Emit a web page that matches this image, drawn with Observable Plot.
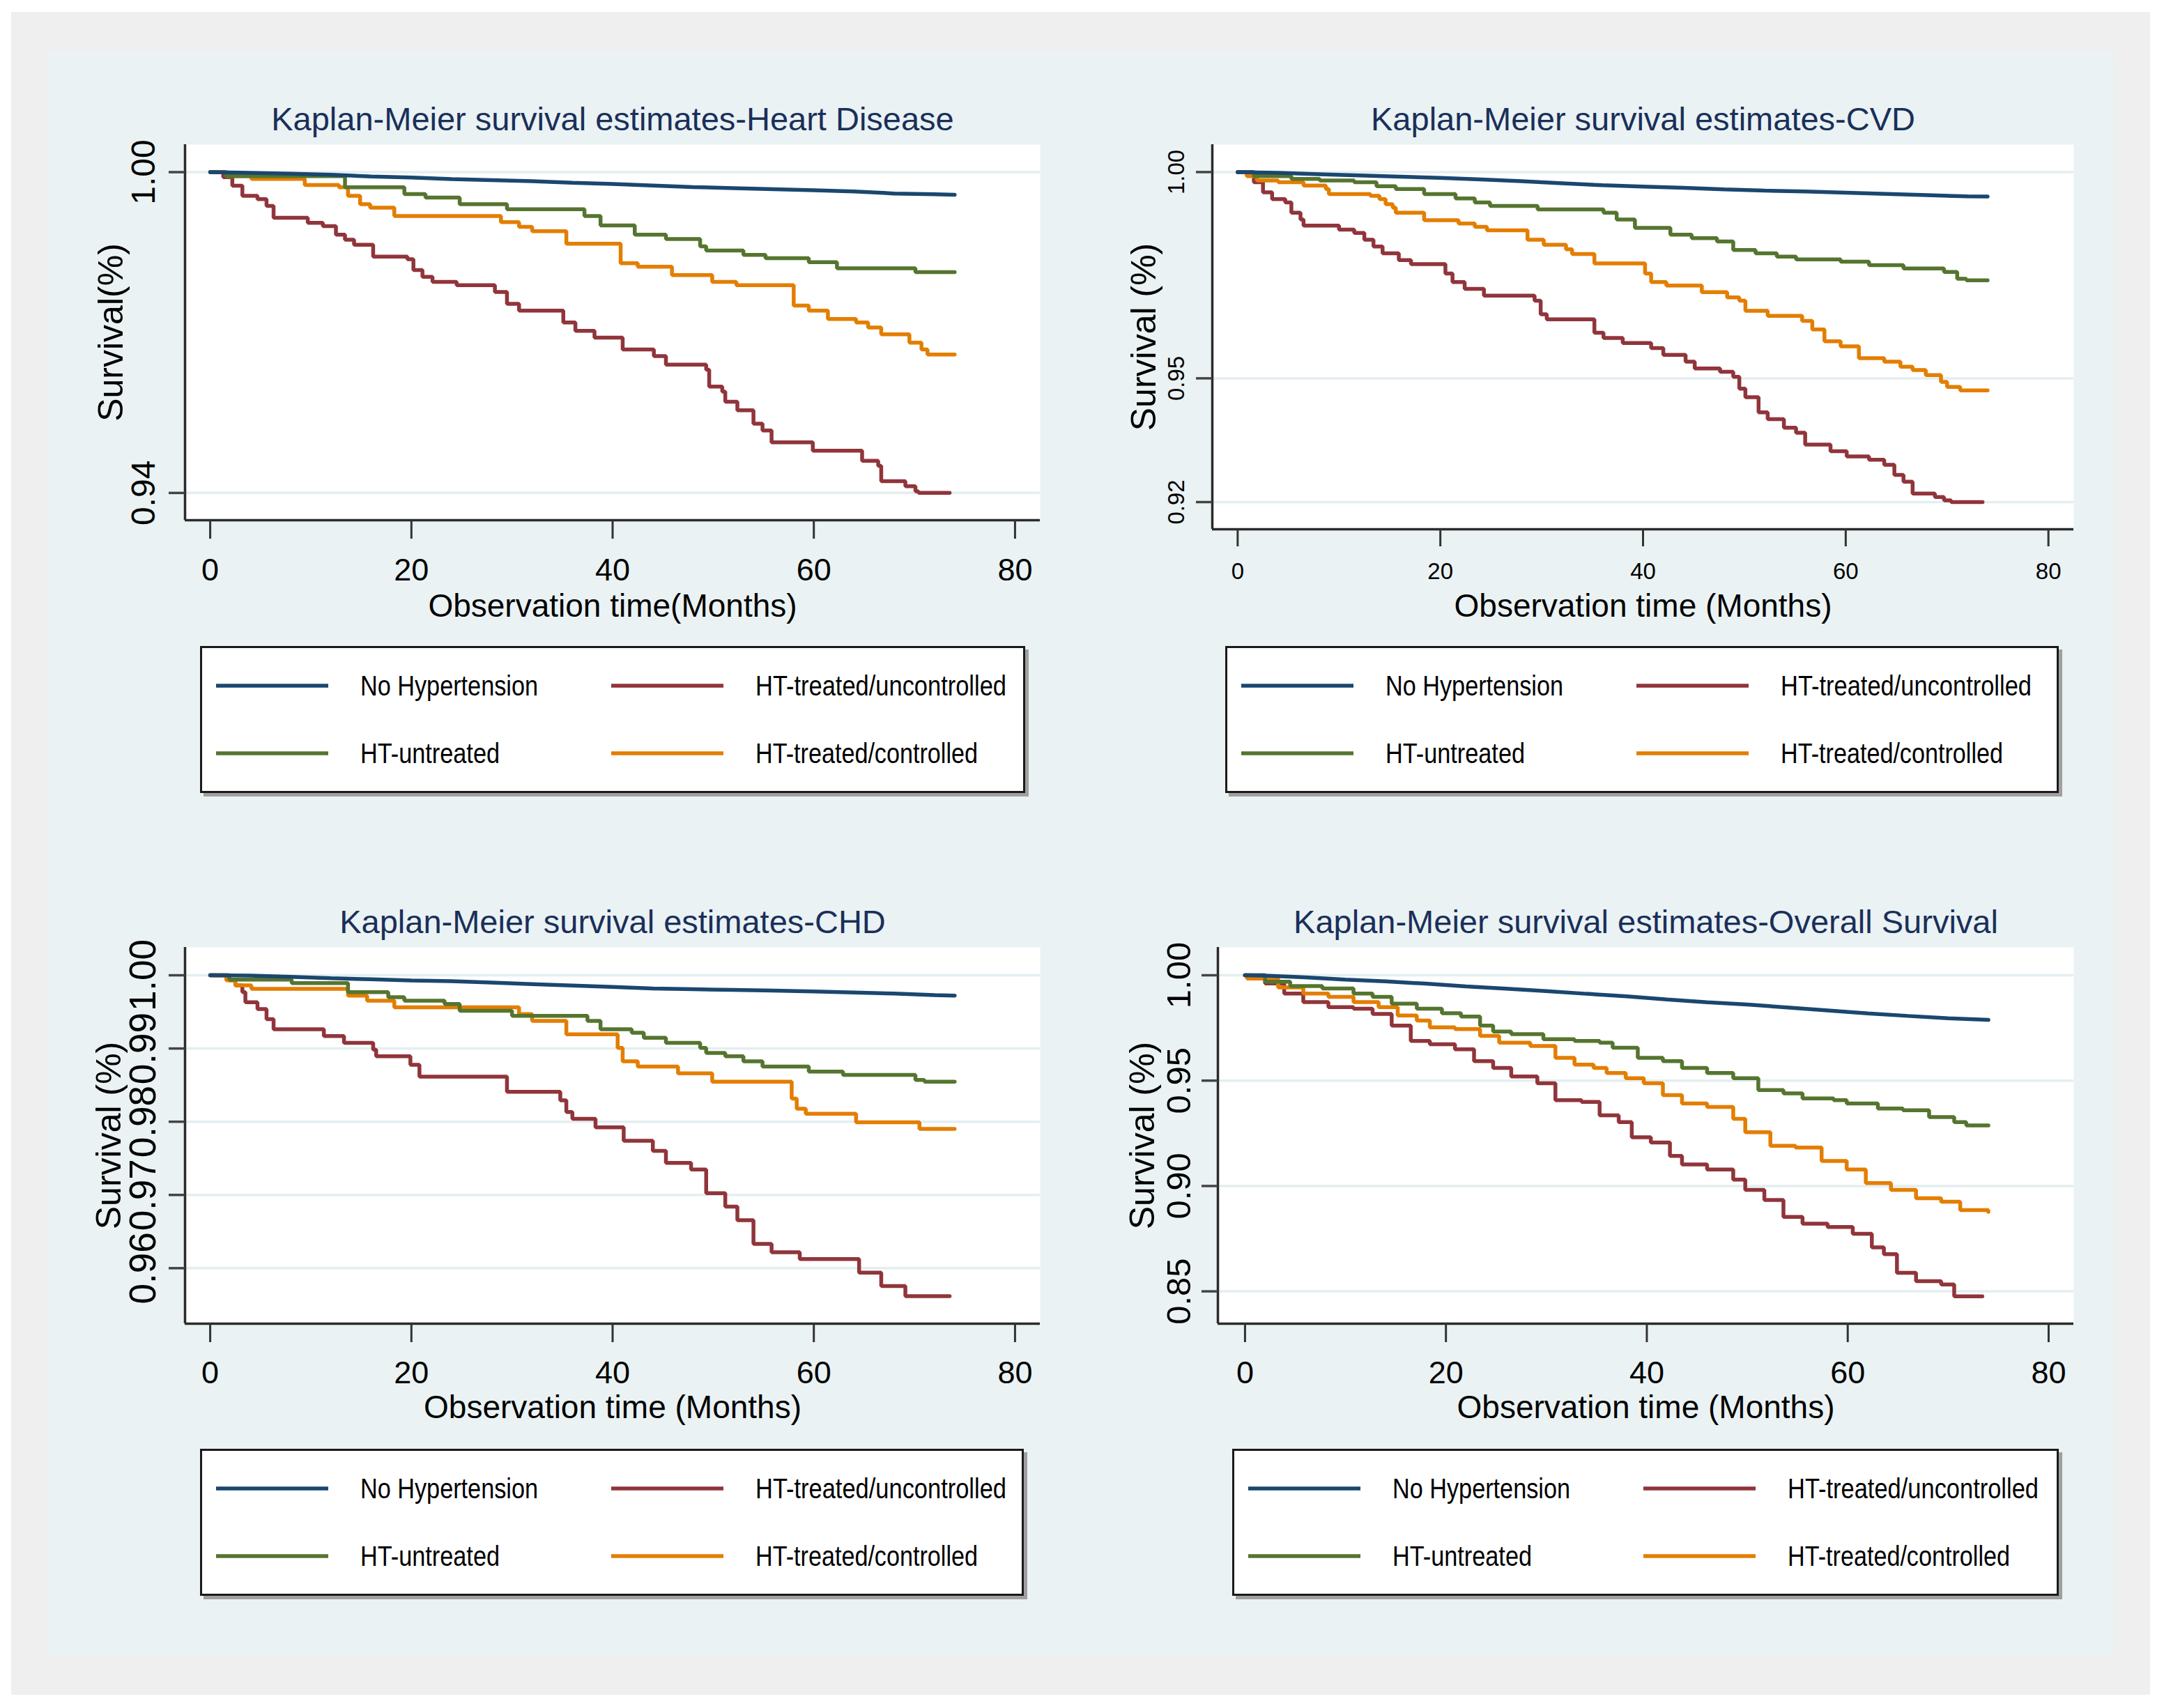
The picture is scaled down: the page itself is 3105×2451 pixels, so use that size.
<!DOCTYPE html>
<html><head><meta charset="utf-8">
<script src="https://cdn.jsdelivr.net/npm/d3@7"></script>
<script src="https://cdn.jsdelivr.net/npm/@observablehq/plot@0.6"></script>
<style>
html,body{margin:0;padding:0;background:#fff;}
#root{position:relative;width:3105px;height:2451px;overflow:hidden;background:#fff;font-family:"Liberation Sans",Arial,sans-serif;}
</style></head><body><div id="root"></div>
<script>
// ---------------- data ----------------
const seriesNames = ["No Hypertension", "HT-untreated", "HT-treated/uncontrolled", "HT-treated/controlled"];
const seriesColors = ["#1a476f", "#55752f", "#90353b", "#e37e00"];
const xTicks = [0, 20, 40, 60, 80];

// Heart Disease  [month, survival]
const hdNoHT = [[0,1],[3,0.9999],[8,0.9997],[12,0.9995],[16,0.9992],[20,0.9990],[24,0.9987],[28,0.9985],[32,0.9983],[36,0.9980],[40,0.9978],[44,0.9975],[48,0.9972],[52,0.9970],[56,0.9968],[60,0.9966],[64,0.9964],[68,0.9960],[72,0.99585],[74,0.99577]];
const hdUntreated = [[0,1],[1.6,0.99924],[13.4,0.99716],[19.3,0.99589],[21.4,0.99526],[24.8,0.994],[29.5,0.99305],[37.2,0.99179],[38.8,0.99002],[42.2,0.98832],[45.3,0.98749],[48.7,0.98611],[49.3,0.98535],[53.0,0.98453],[55.2,0.98389],[59.5,0.98314],[62.3,0.982],[70.1,0.9813],[74,0.9813]];
const hdUncontrolled = [[0,1],[1.3,0.99905],[2.2,0.99747],[3.2,0.99558],[4.7,0.99495],[5.6,0.99368],[6.3,0.99147],[9.7,0.99053],[11.2,0.98989],[12.5,0.98832],[13.4,0.98737],[14.3,0.98642],[16.2,0.98421],[19.6,0.9837],[20.2,0.98168],[21.1,0.98042],[22.1,0.97947],[24.5,0.97884],[28.3,0.97758],[29.5,0.97537],[30.7,0.9741],[35.1,0.97189],[36.3,0.97032],[38.2,0.96905],[41.0,0.96684],[44.1,0.96558],[45.3,0.964],[49.3,0.96305],[49.6,0.95989],[50.9,0.95895],[51.2,0.95705],[52.4,0.95547],[54.0,0.95295],[54.9,0.95168],[55.8,0.94947],[59.9,0.94789],[64.8,0.946],[66.4,0.94505],[66.7,0.94221],[69.1,0.94126],[70.1,0.94031],[70.4,0.94],[73.5,0.94]];
const hdControlled = [[0,1],[1.6,0.99924],[4.1,0.99874],[9.4,0.9976],[12.8,0.99716],[13.7,0.99558],[14.9,0.994],[15.9,0.99337],[18.3,0.99179],[28.9,0.99065],[30.7,0.98977],[32.0,0.98895],[35.4,0.98661],[40.8,0.98295],[42.5,0.98232],[45.9,0.98074],[49.9,0.97947],[52.3,0.97884],[58.0,0.97505],[59.5,0.9741],[61.4,0.97253],[64.2,0.97189],[65.4,0.97095],[66.7,0.96968],[69.5,0.9681],[70.7,0.96684],[71.3,0.96589],[74,0.96589]];

// CVD
const cvdNoHT = [[0,1],[4,0.9998],[8,0.9995],[12,0.9992],[16,0.9989],[20,0.9986],[24,0.9982],[28,0.9978],[32,0.9973],[36,0.9968],[40,0.9965],[44,0.9962],[48,0.9958],[52,0.9955],[56,0.9953],[60,0.9950],[64,0.9947],[68,0.9944],[72,0.9941],[74,0.99409]];
const cvdUntreated = [[0,1],[1.6,0.99902],[5.3,0.99836],[8.1,0.99795],[11.5,0.99754],[13.7,0.99655],[15.6,0.9959],[18.4,0.99467],[21.5,0.9936],[23.4,0.99262],[24.9,0.9918],[29.6,0.99097],[36.1,0.99015],[37.4,0.98851],[39.2,0.98646],[42.7,0.98482],[44.8,0.984],[47.3,0.98318],[48.9,0.98113],[51.1,0.98031],[53.2,0.97949],[55.1,0.97883],[59.5,0.97826],[62.3,0.97744],[65.7,0.97662],[69.7,0.9758],[71.0,0.97416],[71.9,0.97374],[74,0.97374]];
const cvdUncontrolled = [[0,1],[1.6,0.99754],[2.5,0.99508],[3.4,0.99344],[4.7,0.99262],[5.3,0.99015],[6.2,0.98851],[6.5,0.98704],[10.0,0.98605],[11.5,0.98523],[12.5,0.98359],[13.4,0.98195],[14.3,0.98031],[15.9,0.97867],[17.1,0.97768],[20.5,0.97539],[21.2,0.97333],[22.4,0.97169],[24.3,0.97005],[29.3,0.96882],[29.9,0.96554],[30.5,0.96431],[35.2,0.96103],[36.1,0.9598],[38.0,0.95857],[40.8,0.95734],[42.0,0.95569],[44.2,0.95405],[45.1,0.95241],[47.6,0.95159],[48.9,0.95036],[49.5,0.94749],[50.1,0.94544],[51.4,0.94175],[52.3,0.94011],[53.9,0.93805],[55.1,0.93682],[56.0,0.93395],[58.5,0.93231],[60.1,0.93108],[62.3,0.93026],[63.8,0.92903],[64.8,0.92657],[65.7,0.92493],[66.6,0.92205],[68.8,0.92123],[69.7,0.92041],[70.4,0.92],[73.5,0.92]];
const cvdControlled = [[0,1],[0.9,0.99902],[1.9,0.99795],[4.0,0.99754],[6.5,0.99672],[8.7,0.9959],[9.0,0.99467],[13.1,0.99426],[14.0,0.99344],[14.6,0.99221],[15.3,0.99139],[15.6,0.99015],[18.4,0.98835],[21.8,0.98753],[23.4,0.98671],[24.6,0.98589],[28.6,0.98359],[30.2,0.98236],[32.4,0.98129],[33.0,0.98014],[35.2,0.97785],[40.2,0.97539],[40.8,0.97333],[42.3,0.97251],[45.8,0.97087],[48.3,0.96964],[49.5,0.96882],[50.1,0.96636],[52.3,0.96513],[55.7,0.9639],[56.7,0.96185],[57.9,0.95898],[59.5,0.95775],[61.3,0.95487],[63.8,0.95405],[65.4,0.95282],[66.6,0.952],[67.9,0.95077],[69.4,0.94913],[70.0,0.9479],[71.3,0.94708],[74,0.94708]];

// CHD
const chdNoHT = [[0,1],[4,0.99995],[8,0.9998],[12,0.9996],[16,0.99945],[20,0.9993],[24,0.9992],[28,0.9990],[32,0.9988],[36,0.9986],[40,0.9984],[44,0.9982],[48,0.9981],[52,0.9980],[56,0.9979],[60,0.9978],[64,0.99765],[68,0.9975],[72,0.99728],[74,0.99723]];
const chdUntreated = [[0,1],[1.9,0.9994],[8.1,0.99894],[13.7,0.99769],[17.7,0.997],[19.3,0.99654],[23.3,0.99608],[24.8,0.99516],[30.0,0.99446],[37.5,0.99377],[38.8,0.99262],[41.9,0.99216],[43.1,0.99146],[45.3,0.99077],[48.7,0.99008],[49.3,0.98939],[51.2,0.98893],[53.0,0.98824],[54.9,0.98754],[59.5,0.98685],[62.9,0.98639],[70.1,0.9857],[71.0,0.98547],[74,0.98547]];
const chdUncontrolled = [[0,1],[1.9,0.99931],[2.5,0.99862],[3.2,0.99769],[3.5,0.99631],[4.7,0.99539],[5.6,0.994],[6.3,0.99262],[11.3,0.9917],[13.3,0.99077],[16.2,0.98985],[16.5,0.98893],[19.9,0.98777],[20.8,0.98616],[29.5,0.98408],[34.8,0.98293],[35.4,0.98132],[36.0,0.98039],[38.3,0.97924],[41.1,0.97739],[44.0,0.97601],[45.3,0.97439],[47.8,0.97347],[49.3,0.97024],[51.2,0.9684],[52.4,0.96655],[54.0,0.96332],[55.8,0.96217],[58.6,0.96125],[64.5,0.9594],[66.7,0.95756],[69.1,0.95617],[73.5,0.95617]];
const chdControlled = [[0,1],[1.6,0.99931],[2.5,0.99862],[4.1,0.99815],[13.7,0.99723],[15.6,0.99654],[18.3,0.99562],[30.7,0.99469],[32.0,0.99377],[35.4,0.99193],[40.5,0.99008],[41.0,0.98824],[42.5,0.98754],[46.5,0.98662],[49.9,0.98547],[57.8,0.98316],[58.3,0.98178],[59.2,0.98108],[64.2,0.97993],[70.5,0.97901],[74,0.97901]];

// Overall survival
const osNoHT = [[0,1],[2,0.9998],[6,0.9990],[10,0.9979],[14,0.9971],[18,0.9960],[22,0.9947],[26,0.9936],[30,0.9925],[34,0.9912],[38,0.9900],[42,0.9885],[46,0.9872],[50,0.9861],[54,0.9847],[58,0.9833],[62,0.9819],[66,0.9807],[70,0.9796],[74,0.9788]];
const osUntreated = [[0,1],[2.0,0.99695],[4.5,0.99486],[7.7,0.99374],[10.8,0.99133],[12.7,0.98972],[14.6,0.98651],[17.1,0.9841],[19.6,0.98201],[21.5,0.98041],[23.4,0.97607],[24.7,0.97334],[26.5,0.97206],[29.7,0.96965],[32.8,0.96885],[35.3,0.96804],[36.6,0.96563],[39.1,0.96082],[41.6,0.95921],[43.5,0.956],[46.0,0.95359],[48.6,0.95118],[51.1,0.94556],[53.6,0.94396],[55.5,0.94154],[58.6,0.94074],[59.9,0.93914],[63.0,0.93673],[65.5,0.93592],[68.1,0.93271],[70.6,0.9303],[71.8,0.9287],[74,0.9287]];
const osUncontrolled = [[0,1],[2.0,0.99615],[3.9,0.99133],[5.8,0.98731],[8.3,0.9849],[10.8,0.9841],[12.7,0.98169],[14.6,0.97607],[16.5,0.96885],[18.4,0.96724],[20.9,0.96483],[22.8,0.95921],[24.7,0.956],[26.5,0.95198],[29.1,0.94877],[30.9,0.94074],[33.5,0.93994],[35.3,0.93352],[37.2,0.9303],[38.5,0.92308],[40.4,0.92067],[42.3,0.91425],[43.5,0.91023],[46.0,0.90782],[48.6,0.90301],[49.8,0.89818],[51.7,0.89337],[53.6,0.88534],[55.5,0.88213],[58.0,0.88052],[60.5,0.87731],[62.4,0.87089],[63.6,0.86768],[64.9,0.85884],[66.8,0.85483],[69.3,0.85322],[70.6,0.8476],[73.4,0.8476]];
const osControlled = [[0,1],[0.2,0.9984],[3.3,0.99422],[5.8,0.99133],[8.3,0.98972],[10.8,0.98731],[13.3,0.9849],[15.2,0.98089],[17.1,0.97848],[18.4,0.97527],[20.9,0.97447],[23.4,0.97125],[25.3,0.96804],[28.4,0.96644],[30.9,0.96082],[32.8,0.9576],[34.7,0.956],[36.0,0.95359],[37.9,0.95118],[39.7,0.94877],[41.6,0.94315],[43.5,0.93914],[46.0,0.93753],[48.6,0.93191],[49.8,0.92549],[52.3,0.91906],[54.8,0.91826],[57.4,0.91184],[59.9,0.90782],[61.8,0.9014],[64.3,0.89818],[66.8,0.89417],[69.3,0.89256],[71.2,0.88855],[74,0.88775]];

const titles = ["Kaplan-Meier survival estimates-Heart Disease", "Kaplan-Meier survival estimates-CVD", "Kaplan-Meier survival estimates-CHD", "Kaplan-Meier survival estimates-Overall Survival"];
const yTitles = ["Survival(%)", "Survival (%)", "Survival (%)", "Survival (%)"];
const xTitles = ["Observation time(Months)", "Observation time (Months)", "Observation time (Months)", "Observation time (Months)"];
const yTickSets = [[0.94, 1.00], [0.92, 0.95, 1.00], [0.96, 0.97, 0.98, 0.99, 1.00], [0.85, 0.90, 0.95, 1.00]];
const panelSeries = [
  [hdNoHT, hdUntreated, hdUncontrolled, hdControlled],
  [cvdNoHT, cvdUntreated, cvdUncontrolled, cvdControlled],
  [chdNoHT, chdUntreated, chdUncontrolled, chdControlled],
  [osNoHT, osUntreated, osUncontrolled, osControlled]
];

// ---------------- layout ----------------
const layouts = [
  {frame:[265,207,1492,746], xDom:[-2.5,82.5], yDom:[0.9349,1.00515], yFs:48, yDx:-43.5, yTdx:-90, xFs:45, tickLen:27, tickPad:28, xTdy:138, legend:[287,927,1471,1138]},
  {frame:[1739,207,2975,759], xDom:[-2.5,82.5], yDom:[0.91341,1.00666], yFs:33, yDx:-41, yTdx:-82, xFs:33, tickLen:25, tickPad:23, xTdy:125, legend:[1758,927,2954,1138]},
  {frame:[265,1359,1492,1899], xDom:[-2.5,82.5], yDom:[0.95242,1.00381], yFs:53, yDx:-43, yTdx:-93, xFs:45, tickLen:27, tickPad:27, xTdy:135, legend:[287,2079,1469,2290]},
  {frame:[1747,1359,2975,1899], xDom:[-2.7,82.5], yDom:[0.83466,1.01323], yFs:49, yDx:-40, yTdx:-92, xFs:45, tickLen:27, tickPad:27, xTdy:135, legend:[1768,2079,2954,2290]}
];

const root = document.getElementById("root");
function box(l,t,w,h,c){const d=document.createElement("div");d.style.cssText=`position:absolute;left:${l}px;top:${t}px;width:${w}px;height:${h}px;background:${c}`;root.appendChild(d);}
box(16,17,3069,2415,"#efefef");
box(67,72,2966,2305,"#eaf2f3");

const FONT = '"Liberation Sans", Arial, sans-serif';
const order = [2,3,1,0];

layouts.forEach((L, i) => {
  const [fl, ft, fr, fb] = L.frame;
  const mL = 220, mT = 110, mR = 10, mB = 190;
  const W = (fr - fl) + mL + mR, H = (fb - ft) + mT + mB;
  const yTicks = yTickSets[i];
  const lineMarks = order.map(k => Plot.line(panelSeries[i][k], {
    x: d => d[0], y: d => d[1],
    curve: k === 0 ? "linear" : "step-after",
    stroke: seriesColors[k], strokeWidth: 5.5, strokeLinejoin: "miter"
  }));
  const svg = Plot.plot({
    width: W, height: H, marginLeft: mL, marginTop: mT, marginRight: mR, marginBottom: mB,
    x: {domain: L.xDom, axis: null},
    y: {domain: L.yDom, axis: null},
    style: {background: "none", fontFamily: FONT, overflow: "visible", maxWidth: "none"},
    marks: [
      Plot.frame({fill: "white", stroke: null}),
      Plot.ruleY(yTicks, {y: d => d, stroke: "#e4eef1", strokeWidth: 3.5}),
      ...lineMarks,
      Plot.ruleX([L.xDom[0]], {x: d => d, stroke: "#2b2b2b", strokeWidth: 3.5}),
      Plot.ruleY([L.yDom[0]], {y: d => d, stroke: "#2b2b2b", strokeWidth: 3.5}),
      Plot.axisX({ticks: xTicks, tickSize: L.tickLen, tickPadding: L.tickPad, fontSize: L.xFs, label: null, stroke: "#333", strokeWidth: 3, fill: "black", tickFormat: d => String(d)}),
      Plot.axisY({ticks: yTicks, tickSize: 23, tickPadding: 0, label: null, stroke: "#444", strokeWidth: 3.5, tickFormat: () => ""}),
      Plot.text(yTicks, {y: d => d, text: d => d.toFixed(2), frameAnchor: "left", dx: L.yDx, rotate: -90, textAnchor: "middle", lineAnchor: "bottom", fontSize: L.yFs, fill: "black"}),
      Plot.text([yTitles[i]], {text: d => d, frameAnchor: "left", dx: L.yTdx, rotate: -90, textAnchor: "middle", lineAnchor: "bottom", fontSize: 50, fill: "black"}),
      Plot.text([xTitles[i]], {text: d => d, frameAnchor: "bottom", dy: L.xTdy, lineAnchor: "bottom", fontSize: 46, fill: "black"}),
      Plot.text([titles[i]], {text: d => d, frameAnchor: "top", dy: -21, lineAnchor: "bottom", fontSize: 47, fill: "#1a2f5a"})
    ]
  });
  svg.style.position = "absolute";
  svg.style.left = (fl - mL) + "px";
  svg.style.top = (ft - mT) + "px";
  root.appendChild(svg);

  // legend (drawn below the plot)
  const [bl, bt, br, bb] = L.legend;
  const bw = br - bl, bh = bb - bt;
  const lg = d3.create("svg").attr("width", bw + 160).attr("height", bh + 14)
    .style("position", "absolute").style("left", (bl - 2) + "px").style("top", (bt - 2) + "px")
    .style("overflow", "visible");
  lg.append("rect").attr("x", 7).attr("y", 7).attr("width", bw).attr("height", bh).attr("fill", "#a0a0a0");
  lg.append("rect").attr("x", 3.5).attr("y", 3.5).attr("width", bw - 3).attr("height", bh - 3)
    .attr("fill", "white").attr("stroke", "#1a1a1a").attr("stroke-width", 3);
  const slots = [{k:0, col:0, row:0}, {k:2, col:1, row:0}, {k:1, col:0, row:1}, {k:3, col:1, row:1}];
  const textLens = {0: 255, 1: 200, 2: 360, 3: 319};
  slots.forEach(s => {
    const ox = 2 + (s.col === 0 ? 0 : 567);
    const cy = 2 + (s.row === 0 ? 57 : 154);
    const by = 2 + (s.row === 0 ? 71 : 168);
    lg.append("line").attr("x1", ox + 23).attr("x2", ox + 184).attr("y1", cy).attr("y2", cy)
      .attr("stroke", seriesColors[s.k]).attr("stroke-width", 5.5);
    lg.append("text").attr("x", ox + 230).attr("y", by)
      .attr("font-family", '"Liberation Sans Narrow", "Liberation Sans", Arial, sans-serif')
      .attr("font-size", 41).attr("fill", "black")
      .attr("textLength", textLens[s.k]).attr("lengthAdjust", "spacingAndGlyphs")
      .text(seriesNames[s.k]);
  });
  root.appendChild(lg.node());
});
</script></body></html>
